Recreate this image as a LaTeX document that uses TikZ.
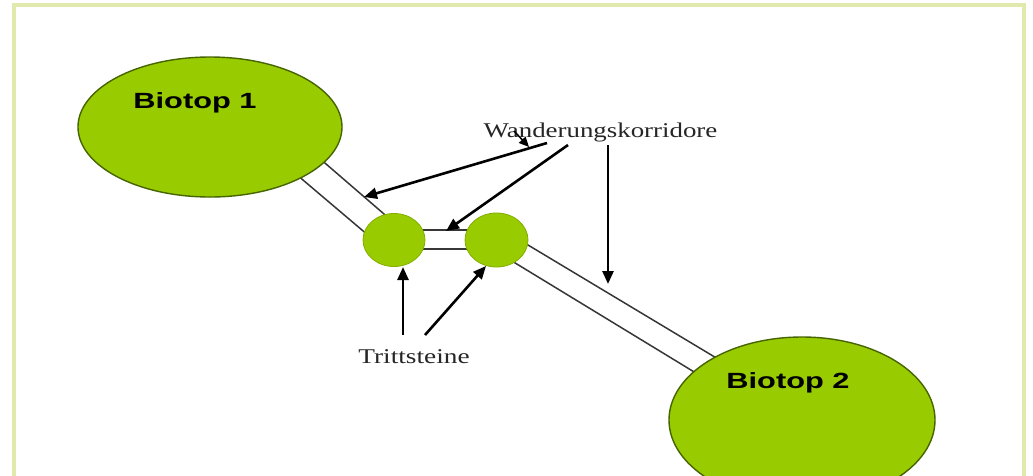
\documentclass[tikz,border=0pt]{standalone}
\usepackage{fontspec}
\usepackage{graphicx}
\setmainfont{Liberation Serif}
\newfontfamily\biofont{Liberation Sans}
\usetikzlibrary{arrows.meta,shapes.geometric}
\definecolor{biogreen}{RGB}{153,204,0}
\definecolor{bioedge}{RGB}{70,100,0}
\definecolor{framecol}{RGB}{226,233,172}
\definecolor{corrcol}{RGB}{55,55,55}
\pgfdeclarelayer{background}
\pgfdeclarelayer{paper}
\pgfsetlayers{paper,background,main}
\tikzset{
  biotop/.style={ellipse, fill=biogreen, draw=bioedge, line width=1.4pt, inner sep=0pt},
  stone/.style={ellipse, fill=biogreen, draw=biogreen!85!black, line width=0.8pt, inner sep=0pt},
  corridor/.style={draw=corrcol, line width=1.5pt},
  pointer/.style={draw=black, line width=2.6pt, -{Triangle[length=13pt,width=11pt]}},
  smallpointer/.style={draw=black, line width=1.5pt, -{Triangle[length=10pt,width=9pt]}},
  biolabel/.style={font=\biofont\bfseries\fontsize{22}{24}\selectfont, anchor=base, inner sep=0pt},
  notelabel/.style={font=\fontsize{21}{23}\selectfont, text=black!85, anchor=base, inner sep=0pt}
}
\begin{document}
\begin{tikzpicture}[x=1pt,y=-1pt]
\useasboundingbox (0,0) rectangle (1033,475);
\begin{pgfonlayer}{paper}
  \fill[white] (0,0) rectangle (1033,475);
  \draw[framecol, line width=4pt] (14,5) rectangle (1024,490);
\end{pgfonlayer}

% habitats and stepping stones
\node[biotop, minimum width=264pt, minimum height=140pt] (b1) at (210,127) {};
\node[biotop, minimum width=266pt, minimum height=166pt] (b2) at (802,420) {};
\node[stone, minimum width=62pt, minimum height=53pt] (s1) at (394,240) {};
\node[stone, minimum width=63pt, minimum height=54pt] (s2) at (496.5,240) {};

\node[biolabel] (t1) at (195,108) {\scalebox{1.4}[1]{Biotop 1}};
\node[biolabel] (t2) at (788,388) {\scalebox{1.4}[1]{Biotop 2}};

% corridor ends (inside the shapes, hidden by them)
\coordinate (c1a) at (300,141.5);  \coordinate (c1b) at (400,227.8);
\coordinate (c2a) at (280,160.5);  \coordinate (c2b) at (380,245.3);
\coordinate (c3a) at (410,230);    \coordinate (c3b) at (480,230);
\coordinate (c4a) at (410,249);    \coordinate (c4b) at (480,249);
\coordinate (c5a) at (510,234.2);  \coordinate (c5b) at (730,366.2);
\coordinate (c6a) at (495,250.7);  \coordinate (c6b) at (720,387.7);

\begin{pgfonlayer}{background}
  \draw[corridor] (c1a) -- (c1b);
  \draw[corridor] (c2a) -- (c2b);
  \draw[corridor] (c3a) -- (c3b);
  \draw[corridor] (c4a) -- (c4b);
  \draw[corridor] (c5a) -- (c5b);
  \draw[corridor] (c6a) -- (c6b);
\end{pgfonlayer}

% labels
\node[notelabel] (wk) at (600.5,137) {\scalebox{1.28}[1]{Wanderungskorridore}};
\node[notelabel] (ts) at (414,363) {\scalebox{1.3}[1]{Trittsteine}};

% arrow ends
\coordinate (w1) at (547,143);  \coordinate (p1) at (364,197);
\coordinate (w2) at (568,145);  \coordinate (p2) at (446,231);
\coordinate (w3) at (608,145);  \coordinate (p3) at (608,284);
\coordinate (w4) at (514,131);  \coordinate (p4) at (529,147);
\coordinate (r1) at (403,335);  \coordinate (q1) at (403,267);
\coordinate (r2) at (425,335);  \coordinate (q2) at (486,266);

\draw[pointer] (w1) -- (p1);
\draw[pointer] (w2) -- (p2);
\draw[pointer] (w3) -- (p3);
\draw[smallpointer] (w4) -- (p4);
\draw[pointer] (r1) -- (q1);
\draw[pointer] (r2) -- (q2);
\end{tikzpicture}
\end{document}
